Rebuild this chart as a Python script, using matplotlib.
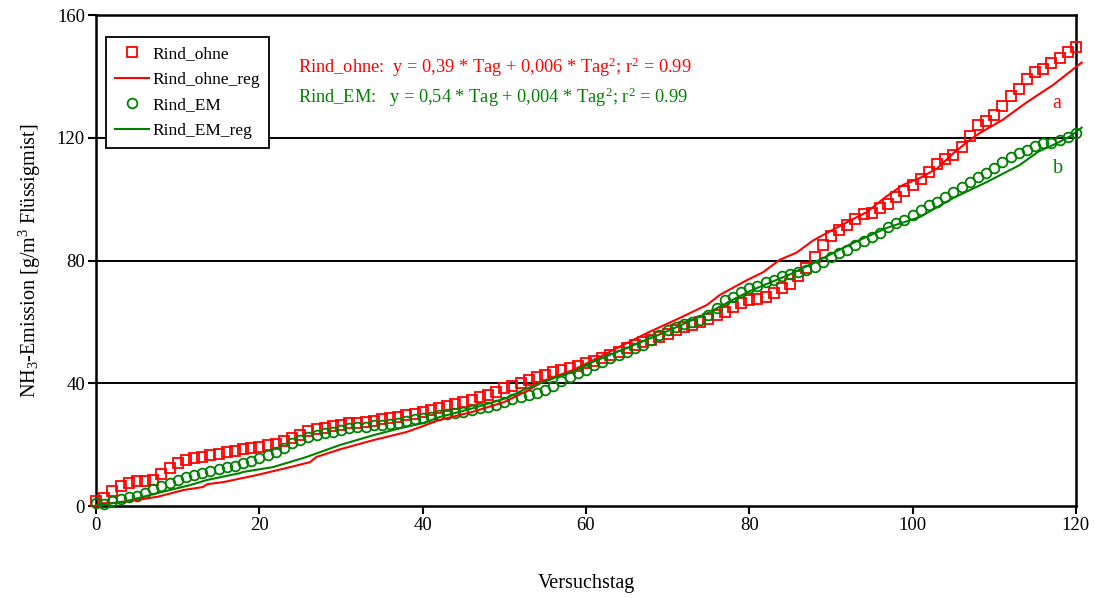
import numpy as np
import matplotlib
matplotlib.use("Agg")
import matplotlib.pyplot as plt

# ── Data ──────────────────────────────────────────────────────────────────────

days = list(range(0, 121))

rind_ohne = [
    1.5, 2.5, 5.0, 6.5, 7.5, 8.0, 8.0, 8.5, 10.5, 12.5,
    14.0, 15.0, 15.5, 16.0, 16.5, 17.0, 17.5, 18.0, 18.5, 19.0,
    19.3, 19.8, 20.3, 21.2, 22.2, 23.2, 24.3, 25.0, 25.5, 26.0,
    26.5, 27.0, 27.2, 27.4, 27.8, 28.2, 28.6, 29.0, 29.5, 30.0,
    30.5, 31.2, 31.9, 32.7, 33.4, 34.0, 34.6, 35.4, 36.2, 37.2,
    38.3, 39.2, 40.0, 41.0, 42.0, 42.8, 43.6, 44.3, 45.0, 45.6,
    46.5, 47.3, 48.2, 49.2, 50.2, 51.5, 52.5, 53.3, 54.2, 55.0,
    56.0, 57.2, 58.3, 59.0, 60.0, 61.0, 62.2, 63.2, 64.8, 66.0,
    67.0, 67.5, 68.2, 69.5, 71.0, 72.5, 75.0, 77.5, 81.0, 85.0,
    88.0, 90.0, 91.5, 93.5, 95.0, 95.5, 97.0, 98.5, 100.7, 102.5,
    104.5, 106.5, 109.0, 111.5, 113.0, 114.5, 117.0, 120.5, 124.0, 125.5,
    127.5, 130.5, 133.5, 136.0, 139.0, 141.5, 142.5, 144.5, 146.0, 148.0,
    149.5,
]

rind_em = [
    1.0, 0.5, 1.5, 2.2, 2.8, 3.4, 4.3, 5.5, 6.5, 7.5,
    8.5, 9.3, 10.0, 10.7, 11.3, 12.0, 12.6, 13.2, 14.0, 14.8,
    15.7, 16.6, 17.6, 19.0, 20.5, 21.5, 22.4, 23.1, 23.7, 24.2,
    24.8, 25.4, 25.7, 25.9, 26.3, 26.5, 26.8, 27.2, 27.7, 28.3,
    28.7, 29.0, 29.5, 30.0, 30.4, 30.8, 31.3, 31.8, 32.2, 33.0,
    34.0, 34.8, 35.6, 36.2, 36.9, 37.8, 39.0, 40.8, 42.0, 43.2,
    44.3, 46.0, 47.0, 48.2, 49.2, 50.2, 51.5, 52.5, 54.0, 55.7,
    57.3, 58.3, 59.3, 60.0, 60.6, 62.2, 64.5, 67.0, 68.2, 69.6,
    71.0, 71.6, 72.9, 73.8, 74.8, 75.5, 76.2, 77.0, 78.0, 79.6,
    81.0, 82.3, 83.5, 85.0, 86.3, 87.6, 89.0, 91.0, 92.2, 93.2,
    94.8, 96.4, 98.0, 99.0, 100.7, 102.3, 104.0, 105.6, 107.2, 108.6,
    110.2, 112.0, 113.6, 115.0, 116.0, 117.4, 118.2, 118.4, 119.3, 120.3,
    121.5,
]

ohne_reg_day = [0, 5, 7.5, 10.7, 13.1, 13.6, 15.6, 19.7, 23.8, 26.2, 27, 29.9,
                34, 38, 40, 42, 46, 50, 53, 55, 58.4, 60.5, 63.3, 67.5, 71.5,
                74.8, 76.4, 79.7, 81.7, 83.7, 85.8, 87.8, 90.2, 92.7, 94.4,
                96.6, 98.8, 100.9, 103, 105, 107, 108.2, 111, 114, 117.2, 120.7]
ohne_reg_val = [0.3, 2.0, 3.0, 5.2, 6.2, 7.1, 7.8, 10.1, 12.7, 14.3, 16.0, 18.5,
                21.5, 24.1, 26.0, 28.0, 30.6, 33.9, 37.8, 41.0, 44.3, 47.0, 50.8,
                56.4, 61.3, 65.5, 68.8, 73.6, 76.2, 80.2, 82.6, 86.5, 90.0, 93.5,
                95.8, 100.5, 104.6, 106.9, 110.0, 115.0, 119.3, 121.5, 125.8,
                131.6, 137.2, 144.5]

em_reg_day = [0, 3.3, 7.5, 11.5, 13.6, 17.6, 18, 21.7, 25.8, 29.9, 34, 37.3,
              40, 42.1, 46.2, 50.3, 52.3, 54.4, 56.4, 58.4, 60.5, 65, 70, 75,
              80, 85, 88.6, 92.7, 96.8, 100.9, 105, 109.1, 113.1, 115.4, 117.5,
              119.3, 120.7]
em_reg_val = [0.3, 1.3, 4.2, 6.8, 8.5, 10.7, 11.1, 12.7, 16.0, 19.9, 23.1, 25.4,
              27.0, 29.0, 31.9, 35.2, 37.8, 40.0, 42.0, 43.7, 46.6, 51.5, 57.0,
              63.0, 70.0, 75.5, 80.2, 85.7, 90.6, 94.2, 100.4, 105.6, 111.1,
              115.5, 118.0, 120.5, 123.3]

x_ticks = [0, 20, 40, 60, 80, 100, 120]
y_ticks = [0, 40, 80, 120, 160]
grid_y = [40, 80, 120]

RED = "#ff0000"
GREEN = "#008000"

# ── Style ─────────────────────────────────────────────────────────────────────

plt.rcParams["font.family"] = ["Liberation Serif", "DejaVu Serif"]
plt.rcParams["mathtext.fontset"] = "custom"
plt.rcParams["mathtext.rm"] = "Liberation Serif"
plt.rcParams["mathtext.it"] = "Liberation Serif:italic"

fig = plt.figure(figsize=(10.95, 5.98), dpi=100)
ax = fig.add_axes([0.0877, 0.1538, 0.8949, 0.8211])

for g in grid_y:
    ax.axhline(g, color="black", lw=1.4, zorder=1)

ax.plot(days, rind_ohne, ls="none", marker="s", ms=7.5, mfc="none",
        mec=RED, mew=1.3, label="Rind_ohne", zorder=3, clip_on=False)
ax.plot(ohne_reg_day, ohne_reg_val, color=RED, lw=1.5,
        label="Rind_ohne_reg", zorder=4, clip_on=False)
ax.plot(days, rind_em, ls="none", marker="o", ms=7, mfc="none",
        mec=GREEN, mew=1.3, label="Rind_EM", zorder=3, clip_on=False)
ax.plot(em_reg_day, em_reg_val, color=GREEN, lw=1.5,
        label="Rind_EM_reg", zorder=4, clip_on=False)

ax.set_xlim(0, 120)
ax.set_ylim(0, 160)
ax.set_xticks(x_ticks)
ax.set_yticks(y_ticks)
ax.tick_params(axis="both", direction="out", length=6, width=1.5,
               labelsize=13.5)
ax.tick_params(axis="x", pad=2)
ax.tick_params(axis="y", pad=2)
for s in ax.spines.values():
    s.set_linewidth(1.8)

ax.set_xlabel("Versuchstag", fontsize=14.5, labelpad=29)
ax.set_ylabel(r"NH$_3$-Emission [g/m$^3$ Flüssigmist]", fontsize=14.5, labelpad=10)

ax.text(24.7, 143, r"Rind_ohne:  y = 0,39 * Tag + 0,006 * Tag$^2$; r$^2$ = 0.99",
        color=RED, fontsize=13.2, va="center", ha="left")
ax.text(24.7, 133.3, r"Rind_EM:   y = 0,54 * Tag + 0,004 * Tag$^2$; r$^2$ = 0.99",
        color=GREEN, fontsize=13.2, va="center", ha="left")
ax.text(117.6, 131.3, "a", color=RED, fontsize=14.5, va="center", ha="center")
ax.text(117.8, 110.1, "b", color=GREEN, fontsize=14.5, va="center", ha="center")

leg = ax.legend(loc="upper left", bbox_to_anchor=(0.0102, 0.955),
                fontsize=12.5, frameon=True, fancybox=False, framealpha=1,
                edgecolor="black", handlelength=2.0, handletextpad=0.2,
                labelspacing=0.55, borderpad=0.5, borderaxespad=0)
leg.get_frame().set_linewidth(1.3)
leg.set_zorder(5)

fig.savefig("out.png", dpi=100)
